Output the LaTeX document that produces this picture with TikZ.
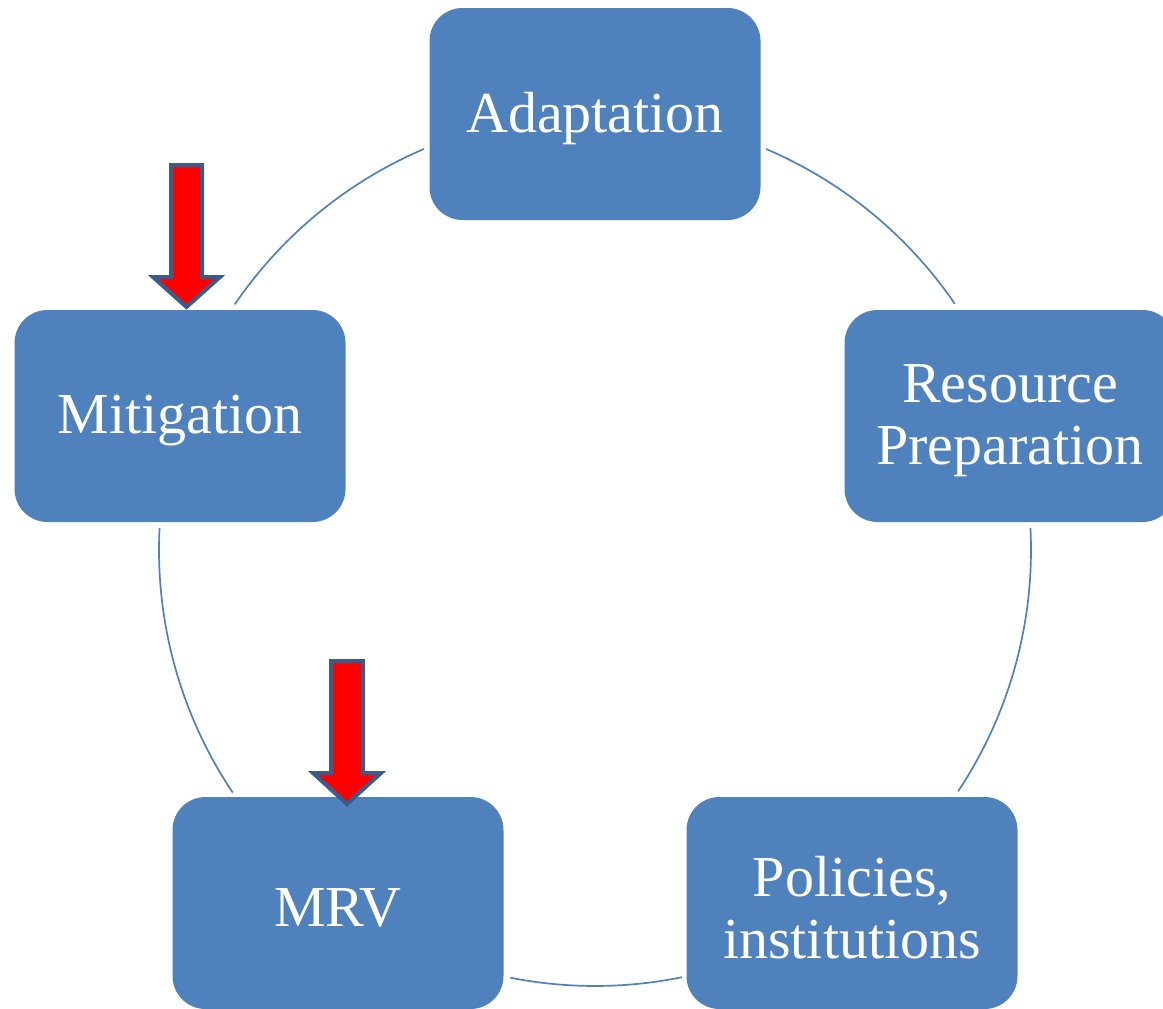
\documentclass[tikz,border=0pt]{standalone}
\usepackage{fontspec}
\setmainfont{Liberation Serif}
\definecolor{boxblue}{RGB}{79,129,189}
\definecolor{outl}{RGB}{56,93,138}
\begin{document}
\begin{tikzpicture}[x=1pt,y=-1pt,
  stage/.style={fill=boxblue, rounded corners=33pt, minimum width=331pt, minimum height=212pt,
    inner sep=0pt},
  lbl/.style={text=white, align=center, inner sep=0pt, font=\fontsize{58}{62}\selectfont},
  ring/.style={draw=boxblue, line width=1.7pt},
  redarrow/.style={fill=red, draw=outl, line width=4pt, line join=miter}]
\useasboundingbox (0,0) rectangle (1163,1009);
\coordinate (c) at (595,550);
\node[stage] (adapt) at (595,114) {};
\node[stage] (mitig) at (180,416) {};
\node[stage] (res) at (1010,416) {};
\node[stage] (mrv) at (338,903) {};
\node[stage] (pol) at (852,903) {};
\node[lbl] (adaptT) at ([yshift=-5pt]adapt.center) {Adaptation};
\node[lbl] (mitigT) at ([yshift=-5pt]mitig.center) {Mitigation};
\node[lbl] (resT) at ([yshift=-5pt]res.center) {Resource\\Preparation};
\node[lbl] (mrvT) at ([yshift=-5pt]mrv.center) {MRV};
\node[lbl] (polT) at ([yshift=-5pt]pol.center) {Policies,\\institutions};
% ring arcs between the stages
\draw[ring] (c) ++(113.1:436pt) arc[start angle=113.1, end angle=145.7, radius=436pt];
\draw[ring] (c) ++(66.9:436pt) arc[start angle=66.9, end angle=34.4, radius=436pt];
\draw[ring] (c) ++(177.1:436pt) arc[start angle=177.1, end angle=213.8, radius=436pt];
\draw[ring] (c) ++(2.9:436pt) arc[start angle=2.9, end angle=-33.6, radius=436pt];
\draw[ring] (c) ++(258.8:436pt) arc[start angle=258.8, end angle=281.5, radius=436pt];
% red arrows
\draw[redarrow] (171,165) -- (202,165) -- (202,277) -- (220,277) -- (186.5,307) -- (153,277) -- (171,277) -- cycle;
\draw[redarrow] (331,661) -- (363,661) -- (363,773) -- (381,773) -- (347,804) -- (313,773) -- (331,773) -- cycle;
\end{tikzpicture}
\end{document}
